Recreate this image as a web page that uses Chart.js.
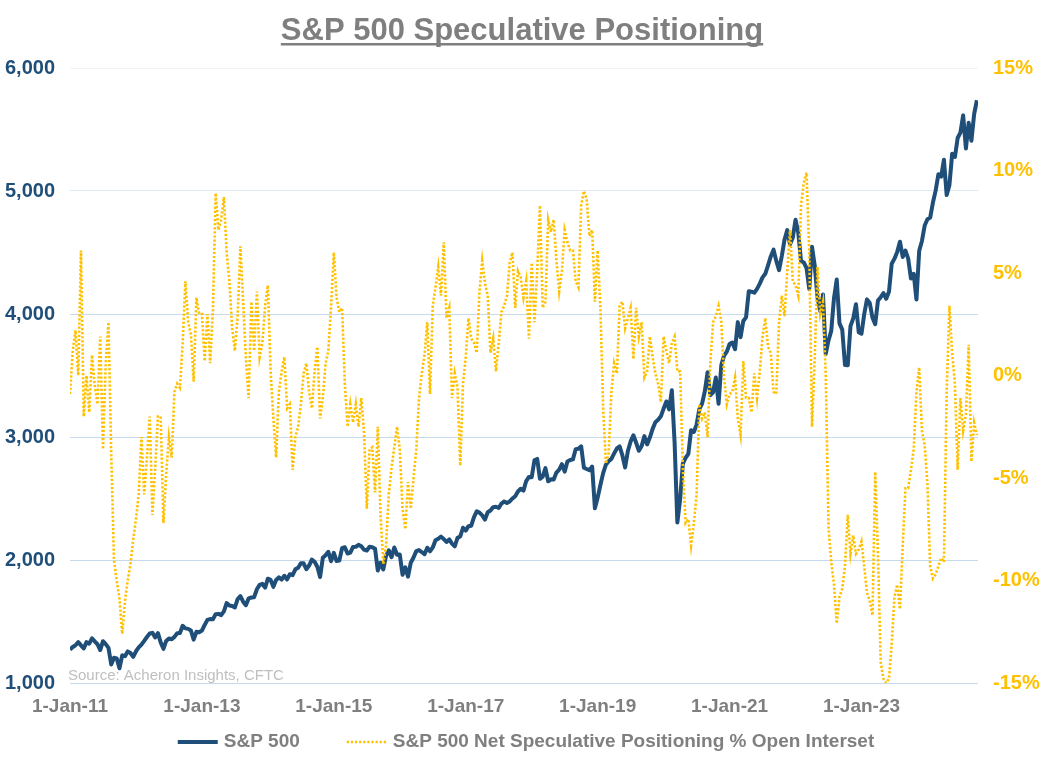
<!DOCTYPE html>
<html>
<head>
<meta charset="utf-8">
<script src="https://cdn.jsdelivr.net/npm/chart.js@4.4.0/dist/chart.umd.min.js"></script>
<style>
  html, body { margin: 0; padding: 0; background: #fff; }
  #wrap { width: 1048px; height: 765px; }
</style>
</head>
<body>
<div id="wrap"><canvas id="chart" width="1048" height="765"></canvas></div>
<script>
// x axis ticks, every two years (x = months since 1-Jan-11)
const tickLabels = ['1-Jan-11', '1-Jan-13', '1-Jan-15', '1-Jan-17', '1-Jan-19', '1-Jan-21', '1-Jan-23'];

// S&P 500, 1st and 15th of each month, Jan 2011 - Oct 2024
const spx = [
  1271, 1293, 1307, 1332, 1306, 1281, 1332, 1320, 1363, 1338, 1315, 1268, 1340, 1316, 1286, 1150, 1205, 1200, 1120, 1225, 1218, 1257, 1244, 1212,
  1258, 1289, 1312, 1343, 1374, 1402, 1408, 1370, 1405, 1330, 1278, 1342, 1362, 1356, 1375, 1405, 1406, 1465, 1444, 1440, 1427, 1353, 1416, 1413,
  1426, 1472, 1513, 1520, 1518, 1560, 1562, 1552, 1582, 1650, 1630, 1626, 1614, 1682, 1706, 1661, 1633, 1688, 1695, 1698, 1762, 1798, 1806, 1775,
  1848, 1838, 1782, 1838, 1859, 1841, 1872, 1842, 1884, 1877, 1924, 1937, 1973, 1973, 1925, 1955, 2003, 1985, 1946, 1862, 2018, 2039, 2067, 1990,
  2058, 1992, 1995, 2096, 2104, 2053, 2060, 2106, 2108, 2123, 2111, 2084, 2077, 2108, 2104, 2091, 1914, 1978, 1923, 2033, 2079, 2023, 2102, 2043,
  2044, 1880, 1940, 1865, 1978, 2020, 2072, 2081, 2065, 2047, 2100, 2071, 2102, 2161, 2173, 2190, 2170, 2147, 2168, 2133, 2111, 2180, 2191, 2262,
  2239, 2275, 2279, 2349, 2396, 2385, 2363, 2329, 2388, 2402, 2430, 2433, 2423, 2459, 2476, 2464, 2476, 2500, 2519, 2557, 2579, 2564, 2642, 2675,
  2673, 2810, 2822, 2660, 2678, 2747, 2640, 2656, 2655, 2711, 2734, 2779, 2718, 2801, 2813, 2818, 2901, 2904, 2924, 2750, 2740, 2730, 2760, 2420,
  2507, 2610, 2706, 2775, 2803, 2822, 2867, 2907, 2924, 2850, 2752, 2886, 2964, 3014, 2953, 2888, 2926, 3007, 2940, 2995, 3066, 3120, 3140, 3168,
  3231, 3289, 3225, 3380, 2954, 2305, 2490, 2783, 2830, 2863, 3055, 3041, 3100, 3226, 3271, 3372, 3526, 3340, 3363, 3483, 3270, 3585, 3662, 3694,
  3756, 3768, 3714, 3934, 3811, 3943, 3973, 4185, 4181, 4173, 4204, 4247, 4298, 4327, 4395, 4468, 4523, 4432, 4357, 4471, 4605, 4682, 4567, 4620,
  4766, 4662, 4432, 4419, 4374, 4204, 4546, 4392, 4132, 4023, 4158, 3675, 3785, 3863, 4130, 4280, 3924, 3873, 3585, 3583, 3901, 3965, 4080, 3852,
  3840, 3999, 4119, 4090, 3970, 3917, 4109, 4137, 4169, 4124, 4180, 4409, 4450, 4505, 4588, 4464, 4515, 4450, 4288, 4327, 4117, 4514, 4594, 4719,
  4770, 4784, 4906, 5005, 5137, 5117, 5254, 4967, 5048, 5303, 5277, 5431, 5475, 5615, 5346, 5554, 5408, 5626, 5738
];

// net speculative positioning, % of open interest, same dates
const netSpec = [
  -0.9, 1.2, 2.2, 0.0, 6.1, -2.0, 0.0, -1.8, 1.0, -0.5, -1.4, 1.9, -3.6, 0.6, 2.6, -3.8, -9.0, -10.0, -10.9, -12.6, -11.0, -10.0, -9.2, -8.0,
  -7.0, -5.8, -3.0, -5.8, -4.0, -2.0, -6.8, -4.5, -2.0, -2.0, -7.2, -4.8, -3.0, -4.0, -0.8, -0.4, -0.6, 1.6, 4.6, 2.6, 2.0, -0.3, 3.8, 3.0,
  3.0, 0.7, 3.0, 0.6, 3.2, 8.9, 7.1, 7.6, 8.7, 6.0, 4.6, 2.3, 1.2, 2.9, 6.3, 3.6, 0.9, -1.1, 3.6, 1.2, 4.1, 0.9, 1.6, 3.4,
  4.4, 0.2, -2.1, -4.0, -0.8, 0.2, 0.9, -1.6, -1.4, -4.6, -3.0, -2.5, -1.4, 0.1, 0.6, -0.8, -1.6, 0.2, 1.4, -2.1, -1.1, 0.6, 1.2, 3.4,
  6.0, 3.8, 3.1, 3.3, -0.4, -2.5, -1.4, -2.3, -1.4, -2.5, -1.1, -2.8, -6.5, -3.6, -3.5, -5.7, -2.5, -6.8, -9.2, -8.3, -5.8, -4.5, -3.5, -2.5,
  -3.6, -6.5, -7.5, -5.2, -6.5, -5.0, -3.6, -1.1, 0.1, 1.0, 2.6, -0.9, 3.4, 4.3, 5.3, 3.9, 6.5, 2.8, 3.3, -1.1, 0.1, -0.6, -4.4, -0.4,
  0.9, 2.8, 1.8, 1.6, 1.1, 4.1, 5.6, 4.5, 3.9, 1.1, 1.8, 0.2, 1.6, 3.1, 3.4, 3.9, 5.5, 6.0, 3.3, 5.1, 4.8, 3.8, 4.6, 1.8,
  5.5, 2.6, 5.1, 8.3, 3.3, 3.6, 7.6, 7.0, 7.6, 5.6, 4.1, 5.1, 7.1, 6.5, 6.1, 6.1, 4.6, 4.3, 8.3, 9.0, 8.6, 6.8, 7.1, 3.6,
  6.1, 3.3, -1.6, -4.3, -3.8, -0.8, 0.6, 0.1, 3.4, 3.6, 2.3, 2.8, 3.3, 0.8, 3.3, 1.9, 2.6, -0.1, 0.2, 1.9, 0.9, 0.1, -0.4, -1.3,
  1.9, 1.2, 0.6, 1.6, 1.9, 0.2, 0.2, -4.5, -7.2, -7.0, -8.3, -7.2, -5.8, -1.4, -2.1, -1.8, -3.0, 0.6, 2.6, 2.9, 3.4, 2.6, -0.1, -1.4,
  -0.9, -0.8, -0.1, -2.1, -2.9, 0.7, -1.1, -1.1, -1.8, 0.1, -1.1, 0.2, 1.9, 2.8, 1.4, 1.1, -0.8, -0.9, 2.6, 3.9, 2.9, 5.1, 7.1, 4.6,
  4.4, 3.9, 8.3, 9.4, 9.9, 6.0, -2.5, 0.9, 5.3, 3.0, 3.6, 0.0, -7.4, -9.1, -10.2, -12.1, -10.8, -10.4, -9.3, -6.8, -8.7, -7.8, -8.7, -8.5,
  -8.1, -9.3, -10.6, -11.0, -11.7, -4.7, -8.7, -14.0, -14.8, -15.0, -14.8, -13.1, -10.8, -10.2, -11.4, -8.3, -5.5, -5.5, -4.6, -3.6, -0.8, 0.4, -2.7, -3.4,
  -5.3, -9.3, -9.9, -9.7, -9.3, -8.9, -9.1, -0.8, 3.4, 1.1, -0.4, -4.6, -1.1, -2.7, -1.9, 1.5, -4.2, -2.3, -2.9
];

const months = spx.map((v, i) => i / 2);

const FONT = '"Liberation Sans", Arial, sans-serif';
const TITLE = 'S&P 500 Speculative Positioning';
const SOURCE = 'Source: Acheron Insights, CFTC';

// title with underline, source note and line legend
const decor = {
  id: 'decor',
  afterDraw(chart) {
    const ctx = chart.ctx;
    ctx.save();
    ctx.font = 'bold 31px ' + FONT;
    ctx.fillStyle = '#7f7f7f';
    ctx.textAlign = 'center';
    ctx.textBaseline = 'alphabetic';
    ctx.fillText(TITLE, 522, 40);
    const tw = ctx.measureText(TITLE).width;
    ctx.fillRect(522 - tw / 2, 43, tw, 2.5);

    ctx.font = '15px ' + FONT;
    ctx.fillStyle = '#bfbfbf';
    ctx.textAlign = 'left';
    ctx.fillText(SOURCE, 68, 680);

    // legend
    ctx.font = 'bold 19px ' + FONT;
    const lineLen = 40, gap = 6, itemGap = 47;
    const sets = chart.data.datasets;
    const widths = sets.map(d => lineLen + gap + ctx.measureText(d.label).width);
    const total = widths.reduce((a, b) => a + b, 0) + itemGap * (sets.length - 1);
    let x = 526 - total / 2;
    const y = 742;
    sets.forEach((d, i) => {
      ctx.beginPath();
      ctx.strokeStyle = d.borderColor;
      ctx.lineWidth = d.legendWidth;
      ctx.setLineDash(d.borderDash || []);
      ctx.moveTo(x, y);
      ctx.lineTo(x + lineLen, y);
      ctx.stroke();
      ctx.setLineDash([]);
      ctx.fillStyle = '#7f7f7f';
      ctx.textBaseline = 'middle';
      ctx.fillText(d.label, x + lineLen + gap, y);
      x += widths[i] + itemGap;
    });
    ctx.restore();
  }
};

const gridColor = ctx => {
  const v = ctx.tick && ctx.tick.value;
  if (v === 6000) return '#eef3f8';
  if (v === 5000) return '#dfe9f3';
  return '#c6daee';
};

new Chart(document.getElementById('chart').getContext('2d'), {
  type: 'line',
  data: {
    datasets: [
      {
        label: 'S&P 500',
        data: months.map((m, i) => ({ x: m, y: spx[i] })),
        yAxisID: 'y',
        borderColor: '#1f4e79',
        borderWidth: 4,
        legendWidth: 4,
        borderJoinStyle: 'round',
        pointRadius: 0,
        order: 2
      },
      {
        label: 'S&P 500 Net Speculative Positioning % Open Interset',
        data: months.map((m, i) => ({ x: m, y: netSpec[i] })),
        yAxisID: 'y1',
        borderColor: '#ffc000',
        borderWidth: 2.6,
        legendWidth: 2.4,
        borderDash: [2.2, 1.9],
        pointRadius: 0,
        order: 1
      }
    ]
  },
  options: {
    responsive: false,
    devicePixelRatio: 1,
    animation: false,
    layout: { padding: { top: 68, bottom: 42, left: 0, right: 0 } },
    scales: {
      x: {
        type: 'linear',
        min: 0,
        max: 165.2,
        grid: { display: false, drawTicks: false },
        border: { display: false },
        ticks: {
          stepSize: 24,
          padding: 12,
          maxRotation: 0,
          autoSkip: false,
          color: '#7f7f7f',
          font: { family: FONT, size: 19, weight: 'bold' },
          callback: v => tickLabels[v / 24] || ''
        },
        afterBuildTicks: s => { s.ticks = s.ticks.filter(t => t.value % 24 === 0); },
        afterFit: s => { s.height = 40; }
      },
      y: {
        position: 'left',
        min: 1000,
        max: 6000,
        grid: { color: gridColor, lineWidth: 1, drawTicks: false },
        border: { display: false },
        ticks: {
          stepSize: 1000,
          padding: 15,
          color: '#1f4e79',
          font: { family: FONT, size: 20, weight: 'bold' },
          callback: v => v.toLocaleString('en-US')
        },
        afterFit: s => { s.width = 70; }
      },
      y1: {
        position: 'right',
        min: -15,
        max: 15,
        grid: { display: false, drawTicks: false },
        border: { display: false },
        ticks: {
          stepSize: 5,
          padding: 15,
          color: '#ffc000',
          font: { family: FONT, size: 20, weight: 'bold' },
          callback: v => v + '%'
        },
        afterFit: s => { s.width = 70; }
      }
    },
    plugins: {
      legend: { display: false },
      tooltip: { enabled: false },
      title: { display: false }
    }
  },
  plugins: [decor]
});
</script>
</body>
</html>
